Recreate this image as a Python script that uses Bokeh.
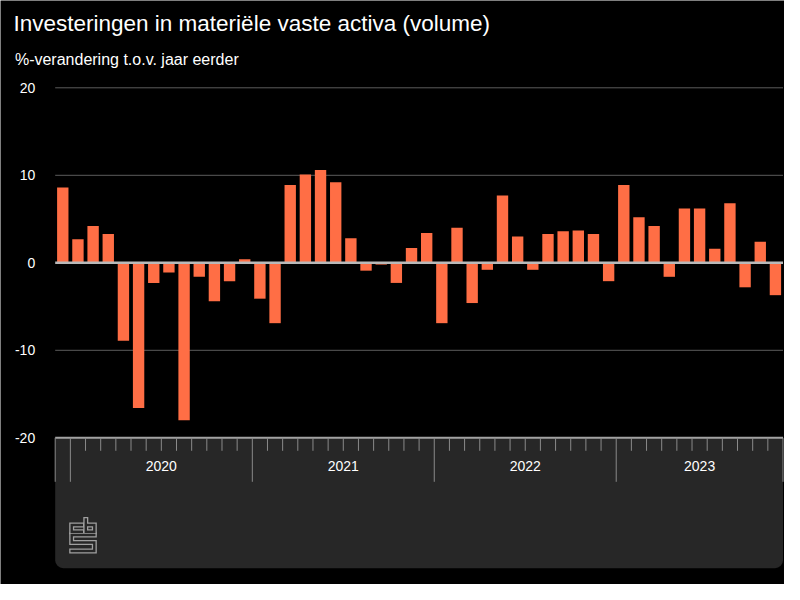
from bokeh.plotting import figure
from bokeh.models import (Range1d, LinearAxis, FixedTicker, BoxAnnotation,
                          ColumnDataSource)
from bokeh.core.properties import value
from bokeh.embed import file_html
from bokeh.resources import INLINE

# ---------------- data ----------------
title_text = "Investeringen in materiële vaste activa (volume)"
subtitle_text = "%-verandering t.o.v. jaar eerder"

jaar = [2019] + [2020] * 12 + [2021] * 12 + [2022] * 12 + [2023] * 11
maand = [12] + list(range(1, 13)) * 3 + list(range(1, 12))
volume_mutatie = [8.6, 2.7, 4.2, 3.3, -8.9, -16.6, -2.3, -1.1, -18.0, -1.6,
                  -4.4, -2.1, 0.4, -4.1, -6.9, 8.9, 10.1, 10.6, 9.2, 2.8,
                  -0.9, -0.2, -2.3, 1.7, 3.4, -6.9, 4.0, -4.6, -0.8, 7.7,
                  3.0, -0.8, 3.3, 3.6, 3.7, 3.3, -2.1, 8.9, 5.2, 4.2,
                  -1.6, 6.2, 6.2, 1.6, 6.8, -2.8, 2.4, -3.7]
y_ticks = [-20, -10, 0, 10, 20]
grid_values = [-10, 10, 20]

# ---------------- layout (pixels) ----------------
W, H = 784, 584
FONT = "Liberation Sans"
BAR = "#ff6e45"
BAND = "#272727"
X_LEFT_PX = 54.7      # pixel position of the left edge of the bar area
X_RIGHT_PX = 782.5    # pixel position of the right edge of the bar area
Y_TOP_PX = 87.3       # pixel position of the top tick value
PPY = 8.75            # pixels per percent point
BAND_BOTTOM_PX = 567.7

n = len(volume_mutatie)
idx = list(range(n))
x_first = -0.5
x_last = n - 0.5
PPX = (X_RIGHT_PX - X_LEFT_PX) / n
y_top = y_ticks[-1]
axis_y = y_ticks[0]

def px_to_x(px):
    return x_first + (px - X_LEFT_PX) / PPX

def py_to_y(py):
    return y_top - (py - Y_TOP_PX) / PPY

p = figure(width=W, height=H, output_backend="svg", toolbar_location=None,
           x_axis_type=None, y_axis_type=None,
           x_range=Range1d(px_to_x(0), px_to_x(W)),
           y_range=Range1d(py_to_y(H), py_to_y(0)),
           background_fill_color="#000000", border_fill_color="#000000",
           min_border=0, min_border_left=0, min_border_right=0,
           min_border_top=0, min_border_bottom=0)
p.outline_line_color = None

# lower band (time axis area)
band = BoxAnnotation(left=x_first, right=x_last, top=axis_y,
                     bottom=py_to_y(BAND_BOTTOM_PX),
                     fill_color=BAND, fill_alpha=1.0,
                     line_color=None, level="underlay",
                     border_radius=(0, 0, 8, 8))
p.add_layout(band)

# y axis drawn at the left edge of the bar area
yax = LinearAxis(ticker=FixedTicker(ticks=y_ticks), fixed_location=x_first,
                 axis_line_color=None,
                 major_tick_line_color=None, minor_tick_line_color=None,
                 major_tick_out=0, major_tick_in=0,
                 major_label_overrides={t: str(t) for t in y_ticks},
                 major_label_standoff=20, major_label_text_color="#ffffff",
                 major_label_text_font=FONT, major_label_text_font_size="14px")
p.add_layout(yax, "left")

# grid lines
p.segment(x0=[x_first] * len(grid_values), x1=[x_last] * len(grid_values),
          y0=grid_values, y1=grid_values, line_color="#5c5c5c", line_width=1)

# bars
src = ColumnDataSource(dict(x=idx, top=volume_mutatie, jaar=jaar, maand=maand))
p.vbar(x="x", top="top", bottom=0, width=0.75, source=src,
       fill_color=BAR, line_color=None)

# zero line and time-axis line
p.segment(x0=[x_first], x1=[x_last], y0=[0], y1=[0],
          line_color="#b9b9b9", line_width=2.5)
p.segment(x0=[x_first], x1=[x_last], y0=[axis_y], y1=[axis_y],
          line_color="#a3a3a3", line_width=2)

# time axis ticks: long at year starts and edges, short at month boundaries
long_x, short_x = [], []
for i in range(n + 1):
    b = i - 0.5
    if i == 0 or i == n or maand[i] == 1:
        long_x.append(b)
    else:
        short_x.append(b)
short_len = 13 / PPY
long_len = 44 / PPY
p.segment(x0=short_x, y0=[axis_y] * len(short_x), x1=short_x,
          y1=[axis_y - short_len] * len(short_x), line_color="#8a8a8a", line_width=1)
p.segment(x0=long_x, y0=[axis_y] * len(long_x), x1=long_x,
          y1=[axis_y - long_len] * len(long_x), line_color="#8a8a8a", line_width=1)

# year labels, centred on each (nearly) complete year
yl_x, yl_t = [], []
for yr in sorted(set(jaar)):
    pos = [i for i, j in enumerate(jaar) if j == yr]
    if len(pos) >= 6:
        yl_x.append((pos[0] - 0.5 + pos[-1] + 0.5) / 2)
        yl_t.append(str(yr))
p.text(x=yl_x, y=[py_to_y(465)] * len(yl_x), text=yl_t,
       text_font=value(FONT), text_font_size="14px", text_color="#ffffff",
       text_align="center", text_baseline="middle")

# title and subtitle
p.text(x=[px_to_x(13)], y=[py_to_y(22.9)], text=[title_text],
       text_font=value(FONT), text_font_size="22.5px", text_color="#ffffff",
       text_align="left", text_baseline="middle")
p.text(x=[px_to_x(14.4)], y=[py_to_y(58.5)], text=[subtitle_text],
       text_font=value(FONT), text_font_size="16px", text_color="#ffffff",
       text_align="left", text_baseline="middle")

# CBS logo (decorative), drawn as outlined strokes
logo_paths = [
    [(81.3, 524.5), (71.2, 524.5), (71.2, 531.2), (81.3, 531.2)],
    [(85.3, 519.0), (85.3, 531.2), (93.8, 531.2), (93.8, 524.5), (85.3, 524.5)],
    [(93.8, 534.5), (71.2, 534.5), (71.2, 542.0), (93.8, 542.0), (93.8, 550.5), (71.2, 550.5)],
]
lx = [[px_to_x(a) for a, b in path] for path in logo_paths]
ly = [[py_to_y(b) for a, b in path] for path in logo_paths]
p.multi_line(xs=lx, ys=ly, line_color="#a0a0a0", line_width=5,
             line_join="miter", line_cap="square")
p.multi_line(xs=lx, ys=ly, line_color=BAND, line_width=2.4,
             line_join="miter", line_cap="square")

open("out.html", "w").write(file_html(p, INLINE))
